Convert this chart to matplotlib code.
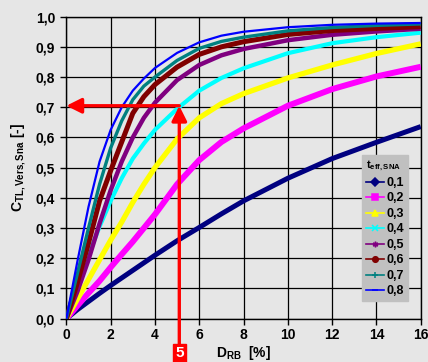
import matplotlib
matplotlib.use("Agg")
import matplotlib.pyplot as plt
from matplotlib.lines import Line2D

plt.rcParams['font.family'] = ['Liberation Sans', 'DejaVu Sans']
plt.rcParams['font.weight'] = 'bold'
plt.rcParams['mathtext.fontset'] = 'custom'
plt.rcParams['mathtext.rm'] = 'Liberation Sans:bold'
plt.rcParams['mathtext.bf'] = 'Liberation Sans:bold'
plt.rcParams['mathtext.it'] = 'Liberation Sans:bold'

# Data
d_rb = [0, 0.5, 1, 1.5, 2, 2.5, 3, 3.5, 4, 5, 6, 7, 8, 10, 12, 14, 16]
t_labels = ['0,1', '0,2', '0,3', '0,4', '0,5', '0,6', '0,7', '0,8']
c_01 = [0, 0.03, 0.057, 0.084, 0.11, 0.135, 0.16, 0.185, 0.21, 0.258, 0.302, 0.347, 0.39, 0.465, 0.53, 0.584, 0.636]
c_02 = [0, 0.043, 0.085, 0.125, 0.17, 0.213, 0.255, 0.30, 0.345, 0.445, 0.525, 0.585, 0.63, 0.705, 0.76, 0.802, 0.834]
c_03 = [0, 0.065, 0.13, 0.195, 0.26, 0.32, 0.385, 0.445, 0.50, 0.595, 0.665, 0.712, 0.745, 0.797, 0.84, 0.878, 0.91]
c_04 = [0, 0.11, 0.21, 0.305, 0.39, 0.465, 0.53, 0.58, 0.625, 0.695, 0.755, 0.797, 0.829, 0.879, 0.912, 0.932, 0.947]
c_05 = [0, 0.09, 0.195, 0.315, 0.425, 0.52, 0.60, 0.665, 0.715, 0.79, 0.84, 0.872, 0.893, 0.922, 0.94, 0.951, 0.96]
c_06 = [0, 0.12, 0.25, 0.39, 0.49, 0.585, 0.68, 0.735, 0.775, 0.833, 0.875, 0.90, 0.917, 0.941, 0.954, 0.961, 0.967]
c_07 = [0, 0.15, 0.30, 0.445, 0.565, 0.655, 0.725, 0.77, 0.80, 0.855, 0.895, 0.918, 0.932, 0.953, 0.964, 0.971, 0.976]
c_08 = [0, 0.19, 0.37, 0.52, 0.625, 0.70, 0.755, 0.795, 0.83, 0.88, 0.915, 0.937, 0.95, 0.965, 0.973, 0.977, 0.979]
series = [c_01, c_02, c_03, c_04, c_05, c_06, c_07, c_08]

x_ticks = [0, 2, 4, 6, 8, 10, 12, 14, 16]
y_ticks = [0.0, 0.1, 0.2, 0.3, 0.4, 0.5, 0.6, 0.7, 0.8, 0.9, 1.0]
y_ticklabels = ['0,0', '0,1', '0,2', '0,3', '0,4', '0,5', '0,6', '0,7', '0,8', '0,9', '1,0']
d_marked = 5.1
c_marked = 0.705

colors = ['#000080', '#FF00FF', '#FFFF00', '#00FFFF', '#800080', '#800000', '#008080', '#0000FF']
markers = ['D', 's', '^', 'x', (6, 2, 0), 'o', '+', '_']
widths = [3.6, 4.3, 3.8, 3.0, 3.2, 3.6, 2.4, 1.6]

bg = '#e6e6e6'
fig = plt.figure(figsize=(4.28, 3.62), dpi=100, facecolor=bg)
ax = fig.add_axes([0.155, 0.1196, 0.828, 0.8344], facecolor=bg)

for ys, col, lw in zip(series, colors, widths):
    ax.plot(d_rb, ys, color=col, lw=lw, solid_capstyle='butt', solid_joinstyle='round', zorder=3)

ax.set_xlim(0, 16)
ax.set_ylim(0, 1.0)
ax.set_xticks(x_ticks)
ax.set_xticklabels([str(v) for v in x_ticks], fontsize=10, fontweight='bold')
ax.set_yticks(y_ticks)
ax.set_yticklabels(y_ticklabels, fontsize=10, fontweight='bold')
ax.grid(True, color='black', lw=0.9, zorder=1)
ax.set_axisbelow(True)
for s in ax.spines.values():
    s.set_color('black')
    s.set_linewidth(1.0)
ax.tick_params(axis='y', direction='out', length=4, width=1, color='black', pad=4)
ax.tick_params(axis='x', direction='out', length=4, width=1, color='black', pad=3)

fig.text(0.5685, 0.0, r'$\mathbf{D_{RB}}$  [%]', fontsize=10, fontweight='bold',
         ha='center', va='bottom')
ax.set_ylabel(r'$\mathbf{C_{TL,Vers,Sna}}$ [-]', fontsize=10, fontweight='bold', labelpad=6)

# red arrows
ax.annotate('', xy=(0, c_marked), xytext=(d_marked, c_marked),
            arrowprops=dict(arrowstyle='-|>,head_length=0.9,head_width=0.45', color='red', lw=2.4,
                            shrinkA=0, shrinkB=0), zorder=6)
ax.annotate('', xy=(d_marked, c_marked), xytext=(d_marked, -0.085),
            arrowprops=dict(arrowstyle='-|>,head_length=0.9,head_width=0.45', color='red', lw=2.4,
                            shrinkA=0, shrinkB=0), annotation_clip=False, zorder=6)
ax.text(d_marked, -0.115, '5', color='white', fontsize=11, fontweight='bold', ha='center', va='center',
        bbox=dict(boxstyle='square,pad=0.15', fc='red', ec='red'), clip_on=False, zorder=7)

handles = [Line2D([0], [0], color=c, marker=m, markersize=4, lw=1.2,
                  markerfacecolor=c, markeredgecolor=c, markeredgewidth=1.1)
           for c, m in zip(colors, markers)]
leg = ax.legend(handles, t_labels, loc='upper left', bbox_to_anchor=(0.834, 0.542),
                borderaxespad=0, frameon=True, fancybox=False, facecolor='#c0c0c0',
                edgecolor='#c0c0c0', framealpha=1, fontsize=9, handlelength=1.45,
                handletextpad=0.2, labelspacing=0.28, borderpad=0.3,
                title=r'$\mathbf{t_{eff,SNA}}$', title_fontsize=8, alignment='left')
for t in leg.get_texts():
    t.set_fontweight('bold')
leg.set_zorder(8)

fig.savefig('out.png', dpi=100, facecolor=bg)
